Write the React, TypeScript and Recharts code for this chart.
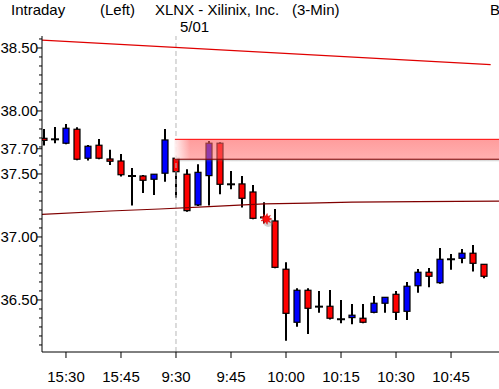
import React from 'react';
import {
  ComposedChart,
  Bar,
  Line,
  XAxis,
  YAxis,
  ReferenceArea,
  ReferenceLine,
  ReferenceDot,
} from 'recharts';

const FONT = '"Liberation Sans", Arial, sans-serif';

const times = [
  '15:24', '15:27', '15:30', '15:33', '15:36', '15:39', '15:42', '15:45', '15:48', '15:51', '15:54', '15:57',
  '9:30', '9:33', '9:36', '9:39', '9:42', '9:45', '9:48', '9:51', '9:54', '9:57',
  '10:00', '10:03', '10:06', '10:09', '10:12', '10:15', '10:18', '10:21', '10:24', '10:27',
  '10:30', '10:33', '10:36', '10:39', '10:42', '10:45', '10:48', '10:51', '10:54',
];

const opens = [
  37.783, 37.775, 37.744, 37.855, 37.625, 37.728, 37.619, 37.603, 37.484, 37.484, 37.458, 37.506,
  37.625, 37.498, 37.254, 37.487, 37.744, 37.418, 37.421, 37.357, 37.155, 37.127,
  36.744, 36.323, 36.577, 36.447, 36.450, 36.347, 36.360, 36.355, 36.402, 36.474,
  36.545, 36.410, 36.613, 36.720, 36.637, 36.823, 36.831, 36.871, 36.783,
];
const highs = [
  37.857, 37.873, 37.897, 37.871, 37.730, 37.778, 37.693, 37.659, 37.548, 37.492, 37.498, 37.857,
  37.645, 37.537, 37.577, 37.762, 37.752, 37.524, 37.484, 37.413, 37.275, 37.222,
  36.799, 36.593, 36.593, 36.571, 36.579, 36.500, 36.468, 36.468, 36.532, 36.521,
  36.571, 36.643, 36.746, 36.754, 36.913, 36.865, 36.905, 36.937, 36.783,
];
const lows = [
  37.725, 37.744, 37.736, 37.609, 37.606, 37.617, 37.571, 37.479, 37.249, 37.349, 37.333, 37.439,
  37.312, 37.201, 37.246, 37.249, 37.339, 37.379, 37.233, 37.140, 37.109, 36.752,
  36.177, 36.288, 36.230, 36.399, 36.344, 36.315, 36.307, 36.315, 36.394, 36.399,
  36.341, 36.341, 36.558, 36.601, 36.629, 36.740, 36.791, 36.725, 36.672,
];
const closes = [
  37.767, 37.775, 37.863, 37.617, 37.720, 37.625, 37.601, 37.494, 37.484, 37.450, 37.498, 37.770,
  37.518, 37.209, 37.513, 37.744, 37.418, 37.418, 37.307, 37.148, 37.155, 36.759,
  36.394, 36.577, 36.434, 36.447, 36.355, 36.347, 36.379, 36.323, 36.474, 36.521,
  36.402, 36.609, 36.720, 36.688, 36.823, 36.823, 36.871, 36.791, 36.688,
];

const xTickLabels = ['15:30', '15:45', '9:30', '9:45', '10:00', '10:15', '10:30', '10:45'];
const yMajorTicks = [36.5, 37.0, 37.5, 37.7, 38.0, 38.5];

// trend line (upper, red) endpoints: [index, price]
const upperLineIdx = [-0.18, 40.6];
const upperLineVal = [38.563, 38.368];
// lower (dark red) line
const lowerLineIdx = [-0.18, 6, 10.5, 15, 20, 24, 28, 34, 41.36];
const lowerLineVal = [37.179, 37.206, 37.222, 37.241, 37.262, 37.268, 37.276, 37.280, 37.284];

// resistance band
const bandStartIdx = 11.9;
const bandTop = 37.775;
const bandBottom = 37.617;
const separatorIdx = 12;
const alertIdx = 20.2;
const alertPrice = 37.143;

const X_MIN = -0.18;
const X_MAX = 41.36;
const Y_MIN = 36.087;
const Y_MAX = 38.595;

const data = times.map((t, i) => ({
  i,
  t,
  open: opens[i],
  high: highs[i],
  low: lows[i],
  close: closes[i],
}));

const upperLine = upperLineIdx.map((i, k) => ({ i, v: upperLineVal[k] }));
const lowerLine = lowerLineIdx.map((i, k) => ({ i, v: lowerLineVal[k] }));

const xTicks = xTickLabels.map((l) => times.indexOf(l));

const minorStep = 0.5 / 7;
const minorTicks: number[] = [];
for (let k = -5; k <= 29; k++) {
  const v = +(36.5 + k * minorStep).toFixed(4);
  if (v > Y_MIN && v < Y_MAX) minorTicks.push(v);
}
const allYTicks = Array.from(new Set([...minorTicks, ...yMajorTicks])).sort((a, b) => a - b);

const Candle = (props: any) => {
  const { x, y, width, height, payload } = props;
  if (!payload || x == null || y == null) return null;
  const { open, close, high, low } = payload;
  const top = Math.min(y, y + height);
  const h = Math.abs(height);
  const ppu = high - low > 0 ? h / (high - low) : 0;
  const toY = (v: number) => top + (high - v) * ppu;
  const cx = Math.round(x + width / 2);
  const yO = toY(open);
  const yC = toY(close);
  const bodyTop = Math.min(yO, yC);
  const bodyH = Math.abs(yO - yC);
  const fill = close > open ? '#0000ff' : '#ff0000';
  return (
    <g>
      <line x1={cx} x2={cx} y1={top} y2={top + h} stroke="#000" strokeWidth={2} />
      {open === close ? (
        <line x1={cx - 4} x2={cx + 4} y1={yO} y2={yO} stroke="#000" strokeWidth={2} />
      ) : (
        <rect
          x={cx - 3}
          y={bodyTop}
          width={6}
          height={Math.max(bodyH, 1)}
          fill={fill}
          stroke="#000"
          strokeWidth={1.2}
        />
      )}
    </g>
  );
};

const YTick = (props: any) => {
  const { x, y, payload } = props;
  const v = payload.value;
  const major = yMajorTicks.some((m) => Math.abs(m - v) < 1e-6);
  return (
    <g>
      <line x1={x - (major ? 5 : 3)} x2={x} y1={y} y2={y} stroke="#000" strokeWidth={1} />
      {major && (
        <text x={x - 4} y={y} dy="0.36em" textAnchor="end" fontSize={15} fontFamily={FONT} fill="#000">
          {v.toFixed(2)}
        </text>
      )}
    </g>
  );
};

const Star = (props: any) => {
  const { cx, cy } = props;
  if (cx == null || cy == null) return null;
  const pts: string[] = [];
  const n = 9;
  for (let k = 0; k < n * 2; k++) {
    const r = k % 2 === 0 ? 5.5 : 2.8;
    const a = (Math.PI * k) / n;
    pts.push(`${cx + r * Math.cos(a)},${cy + r * Math.sin(a)}`);
  }
  return (
    <g>
      <circle cx={cx + 2} cy={cy + 3} r={5} fill="#808080" opacity={0.35} />
      <polygon points={pts.join(' ')} fill="#ff1010" stroke="#d00000" strokeWidth={0.5} />
    </g>
  );
};

export default function App() {
  return (
    <div style={{ position: 'absolute', left: 0, top: 0, width: 499, height: 389, background: '#fff' }}>
      <svg
        width={499}
        height={36}
        style={{ position: 'absolute', left: 0, top: 0 }}
        fontFamily={FONT}
        fontSize={15}
      >
        <text x={11} y={15}>Intraday</text>
        <text x={100} y={15}>(Left)</text>
        <text x={155} y={15}>XLNX - Xilinix, Inc.</text>
        <text x={292} y={15}>(3-Min)</text>
        <text x={490} y={15}>B</text>
        <text x={180} y={32}>5/01</text>
      </svg>
      <div style={{ position: 'absolute', left: 0, top: 0 }}>
        <ComposedChart
          width={499}
          height={389}
          data={data}
          margin={{ top: 36, right: 0, bottom: 0, left: 0 }}
        >
          <defs>
            <linearGradient id="bandFill" x1="0" y1="0" x2="0" y2="1">
              <stop offset="0%" stopColor="#ff5a5a" stopOpacity={0.6} />
              <stop offset="100%" stopColor="#ff7070" stopOpacity={0.55} />
            </linearGradient>
            <linearGradient id="bandFade" x1="0" y1="0" x2="1" y2="0">
              <stop offset="0%" stopColor="#ffffff" stopOpacity={0.85} />
              <stop offset="100%" stopColor="#ffffff" stopOpacity={0} />
            </linearGradient>
            <linearGradient id="shadowFill" x1="0" y1="0" x2="0" y2="1">
              <stop offset="0%" stopColor="#606060" stopOpacity={0.45} />
              <stop offset="100%" stopColor="#808080" stopOpacity={0} />
            </linearGradient>
          </defs>
          <XAxis
            type="number"
            dataKey="i"
            domain={[X_MIN, X_MAX]}
            allowDataOverflow
            ticks={xTicks}
            interval={0}
            tickFormatter={(v: number) => times[v]}
            tickSize={6}
            tickMargin={13}
            height={37}
            stroke="#000"
            tick={{ fill: '#000', fontSize: 15, fontFamily: FONT }}
          />
          <YAxis
            type="number"
            domain={[Y_MIN, Y_MAX]}
            allowDataOverflow
            ticks={allYTicks}
            interval={0}
            tick={<YTick />}
            tickLine={false}
            tickSize={0}
            tickMargin={0}
            width={42}
            stroke="#000"
          />
          <ReferenceLine x={separatorIdx} stroke="#b8b8b8" strokeDasharray="5 3" />
          <Line
            data={lowerLine}
            dataKey="v"
            type="linear"
            stroke="#800000"
            strokeWidth={1.2}
            dot={false}
            activeDot={false}
            isAnimationActive={false}
          />
          <Line
            data={upperLine}
            dataKey="v"
            type="linear"
            stroke="#e00000"
            strokeWidth={1.2}
            dot={false}
            activeDot={false}
            isAnimationActive={false}
          />
          <Bar
            dataKey={(d: any) => [d.low, d.high]}
            barSize={9}
            shape={<Candle />}
            isAnimationActive={false}
          />
          <ReferenceArea
            x1={bandStartIdx}
            x2={X_MAX}
            y1={bandBottom}
            y2={bandTop}
            fill="url(#bandFill)"
            fillOpacity={1}
            stroke="none"
            ifOverflow="hidden"
            zIndex={700}
          />
          <ReferenceArea
            x1={bandStartIdx}
            x2={bandStartIdx + 1.4}
            y1={bandBottom}
            y2={bandTop}
            fill="url(#bandFade)"
            fillOpacity={1}
            stroke="none"
            zIndex={701}
          />
          <ReferenceArea
            x1={bandStartIdx}
            x2={X_MAX}
            y1={bandBottom - 0.022}
            y2={bandBottom}
            fill="url(#shadowFill)"
            fillOpacity={1}
            stroke="none"
            zIndex={701}
          />
          <ReferenceLine
            segment={[{ x: bandStartIdx, y: bandTop }, { x: X_MAX, y: bandTop }]}
            stroke="#ff0000"
            strokeWidth={1}
            zIndex={702}
          />
          <ReferenceLine
            segment={[{ x: bandStartIdx, y: bandBottom }, { x: X_MAX, y: bandBottom }]}
            stroke="#800000"
            strokeWidth={1}
            zIndex={702}
          />
          <ReferenceDot x={alertIdx} y={alertPrice} r={5} shape={<Star />} zIndex={710} />
        </ComposedChart>
      </div>
    </div>
  );
}
